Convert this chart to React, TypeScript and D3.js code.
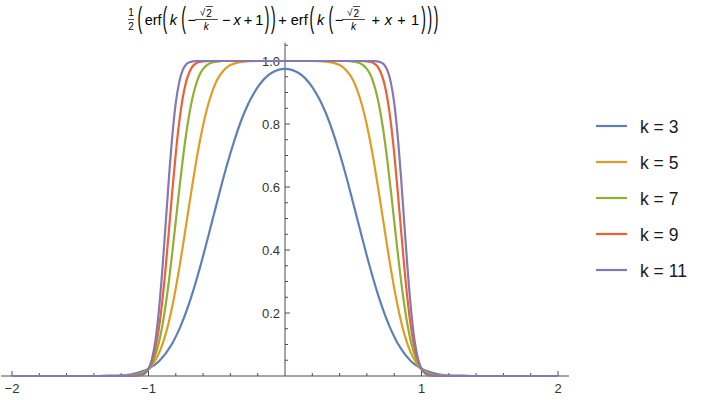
import React from 'react';
import * as d3 from 'd3';

// sample points along x (denser where curves are steep)
const xValues = [
  -2, -1.8, -1.6, -1.4, -1.3, -1.2, -1.15, -1.1, -1.05, -1.025, -1, -0.975, -0.95, -0.925, -0.9,
  -0.875, -0.85, -0.825, -0.8, -0.775, -0.75, -0.725, -0.7, -0.675, -0.65, -0.625, -0.6, -0.55,
  -0.5, -0.45, -0.4, -0.3, -0.2, -0.1, 0, 0.1, 0.2, 0.3, 0.4, 0.45, 0.5, 0.55, 0.6, 0.625, 0.65,
  0.675, 0.7, 0.725, 0.75, 0.775, 0.8, 0.825, 0.85, 0.875, 0.9, 0.925, 0.95, 0.975, 1, 1.025,
  1.05, 1.1, 1.15, 1.2, 1.3, 1.4, 1.6, 1.8, 2,
];

const k3 = [
  0, 0, 0, 0, 0.001, 0.002, 0.004, 0.008, 0.014, 0.018, 0.023, 0.03, 0.037, 0.046, 0.058,
  0.071, 0.087, 0.104, 0.125, 0.148, 0.174, 0.203, 0.234, 0.267, 0.303, 0.341, 0.381, 0.464,
  0.548, 0.631, 0.707, 0.834, 0.917, 0.962, 0.975, 0.962, 0.917, 0.834, 0.707, 0.631, 0.548, 0.464, 0.381, 0.341, 0.303,
  0.267, 0.234, 0.203, 0.174, 0.148, 0.125, 0.104, 0.087, 0.071, 0.058, 0.046, 0.037, 0.03, 0.023, 0.018,
  0.014, 0.008, 0.004, 0.002, 0.001, 0, 0, 0, 0,
];

const k5 = [
  0, 0, 0, 0, 0, 0, 0.001, 0.003, 0.009, 0.015, 0.023, 0.034, 0.05, 0.071, 0.098,
  0.132, 0.174, 0.223, 0.279, 0.341, 0.408, 0.478, 0.548, 0.617, 0.683, 0.743, 0.796, 0.881,
  0.938, 0.97, 0.987, 0.998, 1, 1, 1, 1, 1, 0.998, 0.987, 0.97, 0.938, 0.881, 0.796, 0.743, 0.683,
  0.617, 0.548, 0.478, 0.408, 0.341, 0.279, 0.223, 0.174, 0.132, 0.098, 0.071, 0.05, 0.034, 0.023, 0.015,
  0.009, 0.003, 0.001, 0, 0, 0, 0, 0, 0,
];

const k7 = [
  0, 0, 0, 0, 0, 0, 0, 0.002, 0.006, 0.012, 0.023, 0.04, 0.067, 0.104, 0.156,
  0.223, 0.303, 0.395, 0.492, 0.59, 0.683, 0.765, 0.834, 0.888, 0.928, 0.957, 0.975, 0.993,
  0.998, 1, 1, 1, 1, 1, 1, 1, 1, 1, 1, 1, 0.998, 0.993, 0.975, 0.957, 0.928,
  0.888, 0.834, 0.765, 0.683, 0.59, 0.492, 0.395, 0.303, 0.223, 0.156, 0.104, 0.067, 0.04, 0.023, 0.012,
  0.006, 0.002, 0, 0, 0, 0, 0, 0, 0,
];

const k9 = [
  0, 0, 0, 0, 0, 0, 0, 0.001, 0.004, 0.01, 0.023, 0.046, 0.087, 0.148, 0.234,
  0.341, 0.464, 0.59, 0.707, 0.806, 0.881, 0.933, 0.965, 0.984, 0.993, 0.997, 0.999, 1,
  1, 1, 1, 1, 1, 1, 1, 1, 1, 1, 1, 1, 1, 1, 0.999, 0.997, 0.993,
  0.984, 0.965, 0.933, 0.881, 0.806, 0.707, 0.59, 0.464, 0.341, 0.234, 0.148, 0.087, 0.046, 0.023, 0.01,
  0.004, 0.001, 0, 0, 0, 0, 0, 0, 0,
];

const k11 = [
  0, 0, 0, 0, 0, 0, 0, 0, 0.003, 0.009, 0.023, 0.054, 0.111, 0.203, 0.329,
  0.478, 0.631, 0.765, 0.867, 0.933, 0.97, 0.989, 0.996, 0.999, 1, 1, 1, 1,
  1, 1, 1, 1, 1, 1, 1, 1, 1, 1, 1, 1, 1, 1, 1, 1, 1,
  0.999, 0.996, 0.989, 0.97, 0.933, 0.867, 0.765, 0.631, 0.478, 0.329, 0.203, 0.111, 0.054, 0.023, 0.009,
  0.003, 0, 0, 0, 0, 0, 0, 0, 0,
];

const seriesLabels = ['k = 3', 'k = 5', 'k = 7', 'k = 9', 'k = 11'];
const seriesValues = [k3, k5, k7, k9, k11];
const colors = ['#5e81b5', '#e19c24', '#8fb032', '#eb6235', '#8778b3'];

const xTicks = [-2, -1, 1, 2];
const xTickLabels = ['\u22122', '\u22121', '1', '2'];
const yTicks = [0.2, 0.4, 0.6, 0.8, 1.0];
const yTickLabels = ['0.2', '0.4', '0.6', '0.8', '1.0'];

const width = 706;
const height = 400;
const font = 'Liberation Sans, Arial, sans-serif';
const axisColor = '#4d4d4d';

const x = d3.scaleLinear().domain([-2, 2]).range([12, 558]);
const y = d3.scaleLinear().domain([0, 1]).range([376, 61]);

const line = d3
  .line<number>()
  .x((_, i) => x(xValues[i]))
  .y((d) => y(d))
  .curve(d3.curveMonotoneX);

// little helpers for the typeset title
const Paren = ({ x0, ch }: { x0: number; ch: string }) => (
  <text transform={`translate(${x0},27.5) scale(1,2.1)`} fontSize={14} fontFamily={font}>
    {ch}
  </text>
);

const Frac = ({ cx, top, bottom, w, italicBottom, root }: any) => (
  <g fontFamily={font} fontSize={10} textAnchor="middle">
    {root ? (
      <g>
        <text x={cx - 3.8} y={16}>{'\u221A'}</text>
        <text x={cx + 2.8} y={16.5}>{top}</text>
        <line x1={cx - 0.5} x2={cx + 6.5} y1={6.5} y2={6.5} stroke="#000" strokeWidth={0.7} />
      </g>
    ) : (
      <text x={cx} y={16}>{top}</text>
    )}
    <line x1={cx - w / 2} x2={cx + w / 2} y1={19.5} y2={19.5} stroke="#000" strokeWidth={0.7} />
    <text x={cx} y={30} fontStyle={italicBottom ? 'italic' : 'normal'}>{bottom}</text>
  </g>
);

const T = ({ x0, s, it }: { x0: number; s: string; it?: boolean }) => (
  <text x={x0} y={25} fontSize={14.5} fontFamily={font} fontStyle={it ? 'italic' : 'normal'}>
    {s}
  </text>
);

function Title() {
  return (
    <g fill="#000">
      <Frac cx={131} top="1" bottom="2" w={6} />
      <Paren x0={137.4} ch="(" />
      <T x0={144.7} s="erf" />
      <Paren x0={162.4} ch="(" />
      <T x0={169.7} s="k" it />
      <Paren x0={181.2} ch="(" />
      <T x0={187.5} s={'\u2212'} />
      <Frac cx={206.3} top="2" bottom="k" w={23} italicBottom root />
      <T x0={221.9} s={'\u2212'} />
      <T x0={233.4} s="x" it />
      <T x0={243.8} s="+" />
      <T x0={255.3} s="1" />
      <Paren x0={264.7} ch=")" />
      <Paren x0={271} ch=")" />
      <T x0={278.3} s="+" />
      <T x0={290.8} s="erf" />
      <Paren x0={309.6} ch="(" />
      <T x0={316.9} s="k" it />
      <Paren x0={328.4} ch="(" />
      <T x0={334.7} s={'\u2212'} />
      <Frac cx={353.5} top="2" bottom="k" w={23} italicBottom root />
      <T x0={371.6} s="+" />
      <T x0={384.8} s="x" it />
      <T x0={397.3} s="+" />
      <T x0={410.9} s="1" />
      <Paren x0={421.3} ch=")" />
      <Paren x0={427.6} ch=")" />
      <Paren x0={433.8} ch=")" />
    </g>
  );
}

export default function App() {
  const xMinor = d3.range(-2, 2.001, 0.2).filter((v) => Math.abs(v - Math.round(v)) > 1e-6);
  const yMinor = d3.range(0.05, 1.051, 0.05).filter((v) => Math.abs(v * 5 - Math.round(v * 5)) > 1e-6);

  return (
    <svg width={width} height={height} style={{ position: 'absolute', left: 0, top: 0 }}>
      <rect width={width} height={height} fill="#fff" />
      <Title />

      {/* axes */}
      <g stroke={axisColor} strokeWidth={1}>
        <line x1={x(-2.08)} x2={x(2.08)} y1={y(0)} y2={y(0)} />
        <line x1={x(0)} x2={x(0)} y1={y(0)} y2={y(1.058)} />
        {xTicks.map((t) => (
          <line key={t} x1={x(t)} x2={x(t)} y1={y(0)} y2={y(0) - 5} />
        ))}
        {xMinor.map((t) => (
          <line key={t} x1={x(t)} x2={x(t)} y1={y(0)} y2={y(0) - 3} />
        ))}
        {yTicks.map((t) => (
          <line key={t} x1={x(0)} x2={x(0) + 5} y1={y(t)} y2={y(t)} />
        ))}
        {yMinor.map((t) => (
          <line key={t} x1={x(0)} x2={x(0) + 3} y1={y(t)} y2={y(t)} />
        ))}
      </g>
      <g fontFamily={font} fontSize={13} fill="#333">
        {xTicks.map((t, i) => (
          <text key={t} x={x(t)} y={y(0) + 17} textAnchor="middle">
            {xTickLabels[i]}
          </text>
        ))}
        {yTicks.map((t, i) => (
          <text key={t} x={x(0) - 5} y={y(t) + 4.5} textAnchor="end">
            {yTickLabels[i]}
          </text>
        ))}
      </g>

      {/* curves */}
      <g fill="none" strokeWidth={2.2} strokeLinejoin="round">
        {seriesValues.map((vals, i) => (
          <path key={i} d={line(vals) || ''} stroke={colors[i]} />
        ))}
      </g>

      {/* legend */}
      <g fontFamily={font} fontSize={17.5} fill="#1a1a1a">
        {seriesLabels.map((lab, i) => (
          <g key={lab} transform={`translate(596, ${126 + i * 36})`}>
            <line x1={0} x2={31} y1={0} y2={0} stroke={colors[i]} strokeWidth={2.2} />
            <text x={44} y={6.5}>{lab}</text>
          </g>
        ))}
      </g>
    </svg>
  );
}
